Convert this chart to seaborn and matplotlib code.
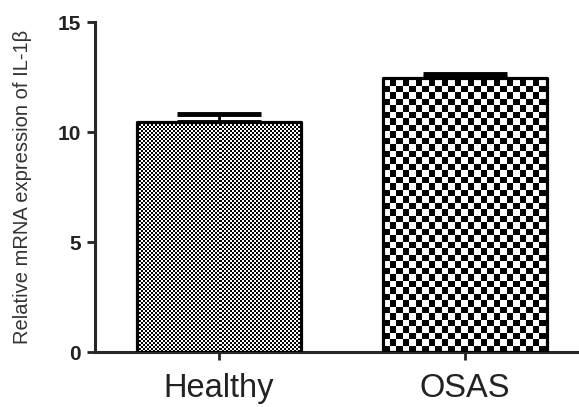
import numpy as np
import pandas as pd
import seaborn as sns
import matplotlib.pyplot as plt

# Data
groups = ["Healthy", "OSAS"]
means = [10.45, 12.45]
errors = [0.35, 0.2]
cell_px = [2, 6.5]  # checker cell size in pixels for each bar

df = pd.DataFrame({"Group": groups, "Expression": means})

sns.set_style("ticks")
plt.rcParams['font.family'] = ['Liberation Sans', 'DejaVu Sans']

fig = plt.figure(figsize=(5.79, 4.07), dpi=100)
ax = fig.add_axes([95 / 579, 1 - 352 / 407, 1 - 95 / 579, 330 / 407])

barplot = sns.barplot(data=df, x="Group", y="Expression", color="white",
                      width=0.667, errorbar=None, ax=ax)

ax.errorbar(range(len(groups)), means, yerr=[np.zeros(len(errors)), errors],
            fmt="none", ecolor="black", elinewidth=2, capsize=30, capthick=3.5,
            zorder=1)

ax.set_xlim(-0.504, 1.463)
ax.set_ylim(0, 15)
ax.set_yticks([0, 5, 10, 15])

# pixel -> data scale
px_x = (ax.get_xlim()[1] - ax.get_xlim()[0]) / (ax.get_position().width * fig.get_figwidth() * fig.dpi)
px_y = (ax.get_ylim()[1] - ax.get_ylim()[0]) / (ax.get_position().height * fig.get_figheight() * fig.dpi)

# checkerboard fill clipped to each bar
for patch, cell in zip(barplot.patches, cell_px):
    x0, y0 = patch.get_x(), patch.get_y()
    w, h = patch.get_width(), patch.get_height()
    nx = int(round(w / px_x / cell))
    ny = int(round(h / px_y / cell))
    board = (np.add.outer(np.arange(ny), np.arange(nx)) % 2).astype(float)
    img = ax.imshow(board, cmap="gray", vmin=0, vmax=1, interpolation="nearest",
                    extent=[x0, x0 + nx * cell * px_x, y0, y0 + ny * cell * px_y],
                    origin="lower", aspect="auto", zorder=2)
    img.set_clip_path(patch)
    patch.set_facecolor("none")
    patch.set_edgecolor("black")
    patch.set_linewidth(2.3)
    patch.set_joinstyle("round")
    patch.set_zorder(3)

ax.set_xlim(-0.504, 1.463)
ax.set_ylim(0, 15)

sns.despine(ax=ax)
ax.spines["left"].set_linewidth(2.2)
ax.spines["bottom"].set_linewidth(2.2)
ax.spines["left"].set_bounds(0, 15)

ax.tick_params(axis="y", length=6, width=2, labelsize=15, pad=4, colors="#222222")
ax.tick_params(axis="x", length=6, width=2, labelsize=23.5, pad=9, colors="#222222")
for lbl in ax.get_yticklabels():
    lbl.set_fontweight("bold")

ax.set_xlabel(None)
ax.set_ylabel("Relative mRNA expression of IL-1β", fontsize=14.5, color="#333333")
ax.yaxis.set_label_coords(-0.13, 0.5)

fig.savefig("out.png", dpi=100)
